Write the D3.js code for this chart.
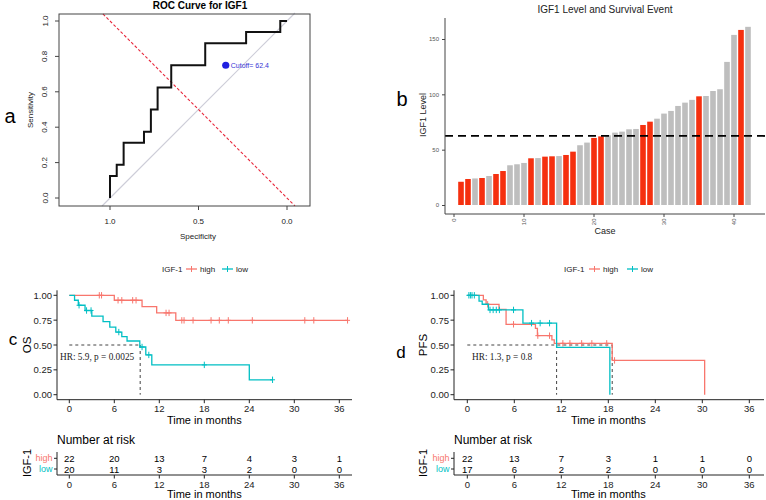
<!DOCTYPE html>
<html><head><meta charset="utf-8">
<script src="https://cdn.jsdelivr.net/npm/d3@7"></script>
<style>body{margin:0;background:#fff}svg{display:block;font-family:"Liberation Sans",Arial,sans-serif}</style>
</head><body><svg id="c" width="766" height="500"></svg>
<script>
// ================= DATA =================
// Panel a: ROC curve
const rocSpec = [1, 1, 0.962, 0.962, 0.923, 0.923, 0.808, 0.808, 0.769, 0.769, 0.731, 0.731, 0.654, 0.654, 0.462, 0.462, 0.231, 0.231, 0.038, 0.038, 0];
const rocSens = [0, 0.125, 0.125, 0.1875, 0.1875, 0.3125, 0.3125, 0.375, 0.375, 0.5, 0.5, 0.625, 0.625, 0.75, 0.75, 0.875, 0.875, 0.9375, 0.9375, 1, 1];
const cutoffPoint = [0.346, 0.75];
const cutoffLabel = "Cutoff= 62.4";
const rocYTicks = [0, 0.2, 0.4, 0.6, 0.8, 1.0];
const rocXTicks = [1.0, 0.5, 0.0];

// Panel b: IGF1 level per case (sorted) and survival event (1 = event)
const igf1Level = [21, 23.5, 24, 24.4, 26.2, 28, 30.7, 35.9, 36.8, 38, 42.2, 42.4, 43.7, 44, 44.2, 45.2, 48.2, 54, 56.4, 60.6, 62, 63, 65.4, 66.3, 68.4, 68.7, 72.3, 75.3, 78, 82.6, 85, 89.5, 92.5, 95, 98.2, 98.5, 103, 104.6, 129.3, 153.7, 158.2, 161];
const igf1Event = [1, 1, 0, 1, 0, 1, 1, 0, 0, 0, 1, 0, 1, 1, 0, 1, 1, 0, 0, 1, 1, 0, 0, 0, 0, 0, 1, 1, 0, 0, 0, 0, 0, 0, 1, 0, 0, 0, 0, 0, 1, 0];
const igf1Cutoff = 62.4;
const caseTicks = [0, 10, 20, 30, 40];
const levelTicks = [0, 50, 100, 150];

// Panel c: OS Kaplan-Meier
const osHighTime = [0, 6.0, 9.7, 11.65, 14.2];
const osHighSurv = [1, 0.95, 0.887, 0.823, 0.748];
const osHighEnd = 37.1;
const osHighCensor = [4.0, 4.3, 6.5, 7.0, 8.45, 8.9, 12.9, 13.3, 15.0, 15.3, 16.5, 18.9, 20.0, 21.2, 24.4, 31.4, 32.6, 37.1];
const osLowTime = [0, 0.7, 1.2, 2.1, 3.0, 4.5, 5.4, 6.2, 7.0, 7.7, 9.4, 10.2, 11.0, 24.0];
const osLowSurv = [1, 0.95, 0.90, 0.847, 0.79, 0.735, 0.68, 0.63, 0.585, 0.54, 0.48, 0.40, 0.30, 0.15];
const osLowEnd = 27.1;
const osLowCensor = [1.3, 2.3, 2.9, 6.6, 9.7, 10.6, 18.0, 27.1];
const osMedian = 9.45;
const osHR = "HR: 5.9, p = 0.0025";

// Panel d: PFS Kaplan-Meier
const pfsHighTime = [0, 2.05, 2.4, 4.05, 4.95, 8.7, 8.95, 10.8, 11.1, 18.5, 30.3];
const pfsHighSurv = [1, 0.953, 0.909, 0.859, 0.708, 0.668, 0.594, 0.551, 0.517, 0.345, 0];
const pfsHighEnd = 30.3;
const pfsHighCensor = [2.6, 5.9, 9.0, 10.5, 12.2, 13.1, 14.6, 15.9, 17.8, 18.8];
const pfsLowTime = [0, 1.5, 1.9, 2.7, 7.1, 11.4, 18.2];
const pfsLowSurv = [1, 0.941, 0.91, 0.853, 0.72, 0.477, 0];
const pfsLowEnd = 18.2;
const pfsLowCensor = [0.2, 0.4, 0.6, 0.9, 2.9, 3.3, 3.7, 4.1, 5.9, 8.2, 9.3, 10.5];
const pfsMedians = [11.4, 18.5];
const pfsHR = "HR: 1.3, p = 0.8";

// Risk tables
const riskTimes = [0, 6, 12, 18, 24, 30, 36];
const riskGroups = ["high", "low"];
const osRiskHigh = [22, 20, 13, 7, 4, 3, 1];
const osRiskLow = [20, 11, 3, 3, 2, 0, 0];
const pfsRiskHigh = [22, 13, 7, 3, 1, 1, 0];
const pfsRiskLow = [17, 6, 2, 2, 0, 0, 0];
const survTicks = [0, 0.25, 0.5, 0.75, 1];

// ================= DRAW =================
const svg = d3.select("#c");
const SANS = "'Liberation Sans', Arial, sans-serif";
const SERIF = "'Liberation Serif', 'Times New Roman', serif";
const RED = "#F8766D", TEAL = "#00BFC4";

function txt(g, x, y, s, size, opts = {}) {
  const t = g.append("text").attr("x", x).attr("y", y).text(s)
    .attr("font-size", size).attr("font-family", opts.family || SANS)
    .attr("fill", opts.fill || "#000").attr("dominant-baseline", "central")
    .attr("text-anchor", opts.anchor || "middle");
  if (opts.weight) t.attr("font-weight", opts.weight);
  if (opts.rotate) t.attr("transform", `rotate(${opts.rotate},${x},${y})`);
  return t;
}

// ---------- Panel a: ROC ----------
(function () {
  const g = svg.append("g");
  const x = d3.scaleLinear().domain([1, 0]).range([110, 287]);
  const y = d3.scaleLinear().domain([0, 1]).range([198, 21]);
  const L = 59, R = 310, T = 14, B = 206;
  const line = d3.line().x(d => x(d[0])).y(d => y(d[1]));
  // chance diagonal (sens = 1 - spec)
  g.append("path").attr("d", line([[1.045, -0.045], [-0.045, 1.045]]))
    .attr("stroke", "#cdcdd8").attr("stroke-width", 1.2).attr("fill", "none");
  // red dashed (sens = spec)
  g.append("path").attr("d", line([[1.04, 1.04], [-0.045, -0.045]]))
    .attr("stroke", "#e8283c").attr("stroke-width", 1.1).attr("stroke-dasharray", "3,2").attr("fill", "none");
  // ROC curve
  const pts = rocSpec.map((s, i) => [s, rocSens[i]]);
  g.append("path").attr("d", line(pts)).attr("stroke", "#111").attr("stroke-width", 2).attr("fill", "none");
  // box
  g.append("rect").attr("x", L).attr("y", T).attr("width", R - L).attr("height", B - T).attr("fill", "none").attr("stroke", "#444").attr("stroke-width", 1);
  // axes
  rocYTicks.forEach(v => {
    g.append("line").attr("x1", L - 4).attr("x2", L).attr("y1", y(v)).attr("y2", y(v)).attr("stroke", "#444");
    txt(g, 45, y(v), v.toFixed(1), 8, { rotate: -90, fill: "#222" });
  });
  rocXTicks.forEach(v => {
    g.append("line").attr("x1", x(v)).attr("x2", x(v)).attr("y1", B).attr("y2", B + 4).attr("stroke", "#444");
    txt(g, x(v), 221, v.toFixed(1), 8, { fill: "#222" });
  });
  txt(g, 30, 110, "Sensitivity", 8, { rotate: -90, fill: "#222" });
  txt(g, 198, 236, "Specificity", 8, { fill: "#222" });
  txt(g, 200, 5, "ROC Curve for IGF1", 10, { weight: "bold" });
  g.append("circle").attr("cx", x(cutoffPoint[0])).attr("cy", y(cutoffPoint[1])).attr("r", 3.6).attr("fill", "#2020e0");
  txt(g, x(cutoffPoint[0]) + 5, y(cutoffPoint[1]), cutoffLabel, 7, { anchor: "start", fill: "#3535d5" });
  txt(g, 10, 116, "a", 20);
})();

// ---------- Panel b: bar chart ----------
(function () {
  const g = svg.append("g");
  const x = d3.scaleLinear().domain([0, 40]).range([454, 734]);
  const y = d3.scaleLinear().domain([0, 150]).range([205, 39]);
  const bw = 0.8 * (x(1) - x(0));
  g.selectAll("rect.bar").data(igf1Level).join("rect").attr("class", "bar")
    .attr("x", (d, i) => x(i + 1) - bw / 2).attr("width", bw)
    .attr("y", d => y(d)).attr("height", d => y(0) - y(d))
    .attr("fill", (d, i) => igf1Event[i] ? "#F5300F" : "#BEBEBE");
  g.append("line").attr("x1", 445).attr("x2", 765).attr("y1", y(igf1Cutoff)).attr("y2", y(igf1Cutoff))
    .attr("stroke", "#000").attr("stroke-width", 1.8).attr("stroke-dasharray", "8,5");
  const ya = g.append("g").attr("transform", "translate(445,0)")
    .call(d3.axisLeft(y).tickValues(levelTicks).tickSize(3).tickPadding(3));
  ya.select(".domain").remove();
  ya.selectAll("line").attr("stroke", "#444");
  ya.selectAll("text").attr("font-size", 6).attr("fill", "#555").attr("font-family", SANS);
  g.append("line").attr("x1", 445).attr("x2", 445).attr("y1", 18).attr("y2", 214).attr("stroke", "#444");
  g.append("line").attr("x1", 445).attr("x2", 765).attr("y1", 214).attr("y2", 214).attr("stroke", "#444");
  caseTicks.forEach(v => {
    g.append("line").attr("x1", x(v)).attr("x2", x(v)).attr("y1", 214).attr("y2", 217).attr("stroke", "#444");
    g.append("text").attr("x", x(v)).attr("y", 218.5).text(v).attr("font-size", 6).attr("fill", "#555")
      .attr("font-family", SANS).attr("text-anchor", "end").attr("dominant-baseline", "central")
      .attr("transform", `rotate(-90,${x(v)},218.5)`);
  });
  txt(g, 605, 231, "Case", 9, { fill: "#222" });
  txt(g, 423, 115, "IGF1 Level", 9, { rotate: -90, fill: "#222" });
  txt(g, 605, 9, "IGF1 Level and Survival Event", 10, { fill: "#222" });
  txt(g, 402, 99, "b", 20);
})();

// ---------- KM panels ----------
function survAt(times, surv, t) {
  let s = surv[0];
  for (let i = 0; i < times.length; i++) if (times[i] <= t) s = surv[i];
  return s;
}
function kmPanel(o) {
  const g = svg.append("g");
  const x = d3.scaleLinear().domain([0, 36]).range([o.x0, o.x36]);
  const y = d3.scaleLinear().domain([0, 1]).range([394.7, 295.3]);
  const ax = o.axisX;
  g.append("line").attr("x1", x(0)).attr("x2", x(o.hEnd)).attr("y1", y(0.5)).attr("y2", y(0.5))
    .attr("stroke", "#444").attr("stroke-width", 1).attr("stroke-dasharray", "3,3");
  o.medians.forEach(m => g.append("line").attr("x1", x(m)).attr("x2", x(m)).attr("y1", y(0.5)).attr("y2", y(0))
    .attr("stroke", "#444").attr("stroke-width", 1).attr("stroke-dasharray", "3,3"));
  o.curves.forEach(c => {
    let d = `M${x(c.time[0])},${y(c.surv[0])}`;
    for (let i = 1; i < c.time.length; i++) d += `H${x(c.time[i])}V${y(c.surv[i])}`;
    d += `H${x(c.end)}`;
    g.append("path").attr("d", d).attr("fill", "none").attr("stroke", c.color).attr("stroke-width", 1.3);
    c.censor.forEach(t => {
      const cx = x(t), cy = y(survAt(c.time, c.surv, t));
      g.append("path").attr("d", `M${cx},${cy - 3.2}V${cy + 3.2}M${cx - 2.5},${cy}H${cx + 2.5}`)
        .attr("stroke", c.color).attr("stroke-width", 1);
    });
  });
  g.append("line").attr("x1", ax).attr("x2", ax).attr("y1", 290.3).attr("y2", 399.7).attr("stroke", "#222");
  g.append("line").attr("x1", ax).attr("x2", o.xEnd).attr("y1", 399.7).attr("y2", 399.7).attr("stroke", "#222");
  survTicks.forEach(v => {
    g.append("line").attr("x1", ax - 3.5).attr("x2", ax).attr("y1", y(v)).attr("y2", y(v)).attr("stroke", "#222");
    txt(g, ax - 5, y(v), v.toFixed(2), 9.5, { anchor: "end", fill: "#222" });
  });
  riskTimes.forEach(v => {
    g.append("line").attr("x1", x(v)).attr("x2", x(v)).attr("y1", 399.7).attr("y2", 403.2).attr("stroke", "#222");
    txt(g, x(v), 408.5, v, 9.5, { fill: "#222" });
  });
  const mid = (x(0) + x(36)) / 2;
  txt(g, mid, 419.5, "Time in months", 11);
  txt(g, o.ylabX, 345, o.ylab, 11.5, { rotate: -90 });
  txt(g, o.letterX, o.letterY, o.letter, 17);
  txt(g, o.hrX, 357, o.hr, 9.3, { anchor: "start", family: SERIF, fill: "#222" });
  const lg = g.append("g");
  txt(lg, o.legX, 269, "IGF-1", 8, { anchor: "start", fill: "#222" });
  o.curves.forEach((c, i) => {
    const kx = o.legKeys[i];
    lg.append("line").attr("x1", kx).attr("x2", kx + 11).attr("y1", 269).attr("y2", 269).attr("stroke", c.color).attr("stroke-width", 1.3);
    lg.append("line").attr("x1", kx + 5.5).attr("x2", kx + 5.5).attr("y1", 266).attr("y2", 272).attr("stroke", c.color).attr("stroke-width", 1);
    txt(lg, kx + 14, 269, riskGroups[i], 8, { anchor: "start", fill: "#222" });
  });
  const rg = g.append("g");
  txt(rg, ax, 440, "Number at risk", 12, { anchor: "start" });
  const rowY = [458.3, 469];
  rg.append("line").attr("x1", ax).attr("x2", ax).attr("y1", 452).attr("y2", 475).attr("stroke", "#222");
  rg.append("line").attr("x1", ax).attr("x2", o.xEnd).attr("y1", 475).attr("y2", 475).attr("stroke", "#222");
  o.risk.forEach((row, r) => {
    rg.append("line").attr("x1", ax - 3).attr("x2", ax).attr("y1", rowY[r]).attr("y2", rowY[r]).attr("stroke", "#222");
    txt(rg, ax - 4.5, rowY[r], riskGroups[r], 9, { anchor: "end", fill: o.curves[r].color });
    row.forEach((n, i) => txt(rg, x(riskTimes[i]), rowY[r], n, 9.5));
  });
  riskTimes.forEach(v => {
    rg.append("line").attr("x1", x(v)).attr("x2", x(v)).attr("y1", 475).attr("y2", 478.5).attr("stroke", "#222");
    txt(rg, x(v), 484, v, 9.5, { fill: "#222" });
  });
  txt(rg, mid, 494, "Time in months", 11);
  txt(rg, o.ylabX, 463, "IGF-1", 11, { rotate: -90 });
}

kmPanel({
  x0: 69.3, x36: 339.3, axisX: 57, xEnd: 352, ylab: "OS", ylabX: 27, letter: "c", letterX: 13, letterY: 339,
  hEnd: osMedian, medians: [osMedian], hr: osHR, hrX: 60, legX: 162, legKeys: [186, 222],
  curves: [
    { time: osHighTime, surv: osHighSurv, end: osHighEnd, censor: osHighCensor, color: RED },
    { time: osLowTime, surv: osLowSurv, end: osLowEnd, censor: osLowCensor, color: TEAL }
  ],
  risk: [osRiskHigh, osRiskLow]
});
kmPanel({
  x0: 467.3, x36: 749.3, axisX: 454, xEnd: 764, ylab: "PFS", ylabX: 423, letter: "d", letterX: 401, letterY: 352,
  hEnd: pfsMedians[1], medians: pfsMedians, hr: pfsHR, hrX: 472, legX: 564, legKeys: [589, 627],
  curves: [
    { time: pfsHighTime, surv: pfsHighSurv, end: pfsHighEnd, censor: pfsHighCensor, color: RED },
    { time: pfsLowTime, surv: pfsLowSurv, end: pfsLowEnd, censor: pfsLowCensor, color: TEAL }
  ],
  risk: [pfsRiskHigh, pfsRiskLow]
});
</script></body></html>
